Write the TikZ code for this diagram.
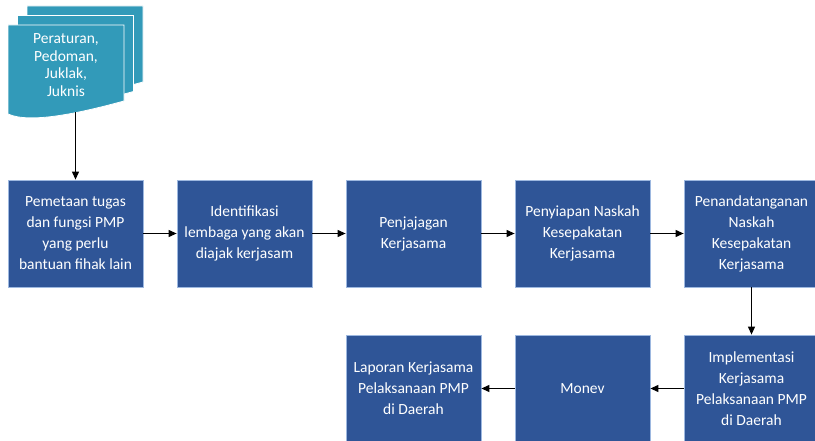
\documentclass[tikz,border=0pt]{standalone}
\usepackage{fontspec}
\setmainfont{Carlito}
\usetikzlibrary{arrows.meta}
\definecolor{stepblue}{HTML}{2F5597}
\definecolor{stepedge}{HTML}{9DB8E0}
\definecolor{docteal}{HTML}{329AB9}

\begin{document}
\begin{tikzpicture}[x=1pt,y=-1pt,
  stepbox/.style={draw=stepedge, line width=0.8pt, fill=stepblue, text=white,
    minimum width=135pt, minimum height=107pt, inner sep=0pt, align=center,
    font=\fontsize{15.5}{21}\selectfont},
  flow/.style={line width=1.1pt, -{Triangle[length=8pt,width=7pt]}},
  page/.style={fill=docteal, draw=white, line width=0.8pt},
  doctext/.style={text=white, align=center, inner sep=0pt,
    font=\fontsize{15.5}{17.5}\selectfont}]

\useasboundingbox (0,0) rectangle (815,441);
\clip (0,0) rectangle (815,441);

% stack of three document pages, back to front
\foreach \px/\py in {27/6, 17.5/15.5, 8/25} {
  \begin{scope}[shift={(\px,\py)}]
    \path[page] (0,0) -- (116,0) -- (116,76)
      .. controls (72,88) and (22,99) .. (0,89) -- cycle;
  \end{scope}
}
\node[doctext] (docs) at (66,65) {Peraturan,\\Pedoman,\\Juklak,\\Juknis};
\coordinate (docout) at (75.5,112);

% top row of steps
\node[stepbox] (s1) at (75.5,233.5) {Pemetaan tugas\\dan fungsi PMP\\yang perlu\\bantuan fihak lain};
\node[stepbox] (s2) at (244.5,233.5) {Identifikasi\\lembaga yang akan\\diajak kerjasam};
\node[stepbox] (s3) at (413.5,233.5) {Penjajagan\\Kerjasama};
\node[stepbox] (s4) at (582.5,233.5) {Penyiapan Naskah\\Kesepakatan\\Kerjasama};
\node[stepbox] (s5) at (751.5,233.5) {Penandatanganan\\Naskah\\Kesepakatan\\Kerjasama};

% bottom row of steps
\node[stepbox] (b3) at (751.5,388.5) {Implementasi\\Kerjasama\\Pelaksanaan PMP\\di Daerah};
\node[stepbox] (b2) at (582.5,388.5) {Monev};
\node[stepbox] (b1) at (413.5,388.5) {Laporan Kerjasama\\Pelaksanaan PMP\\di Daerah};

% connectors
\draw[flow] (docout) -- (s1.north);
\draw[flow] (s1.east) -- (s2.west);
\draw[flow] (s2.east) -- (s3.west);
\draw[flow] (s3.east) -- (s4.west);
\draw[flow] (s4.east) -- (s5.west);
\draw[flow] (s5.south) -- (b3.north);
\draw[flow] (b3.west) -- (b2.east);
\draw[flow] (b2.west) -- (b1.east);
\end{tikzpicture}
\end{document}
